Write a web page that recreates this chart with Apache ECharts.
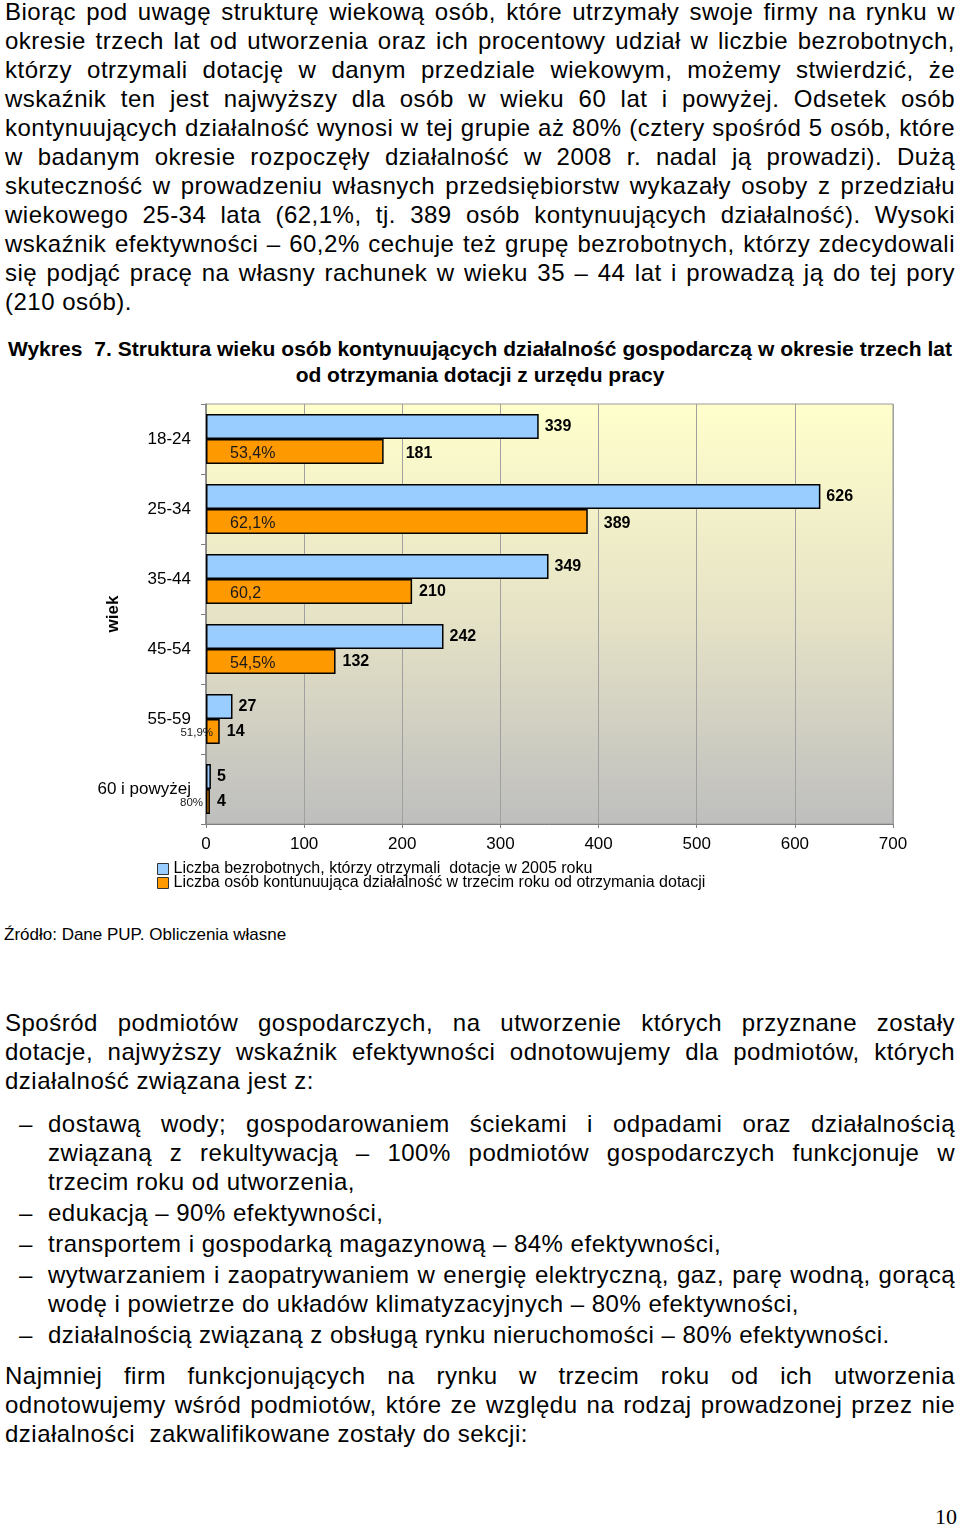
<!DOCTYPE html>
<html lang="pl">
<head>
<meta charset="utf-8">
<script src="https://cdn.jsdelivr.net/npm/echarts@6/dist/echarts.min.js"></script>
<style>
  html, body { margin: 0; padding: 0; background: #fff; }
  body { width: 960px; height: 1537px; position: relative; overflow: hidden;
         font-family: "Liberation Sans", Arial, sans-serif; color: #000; }
  .blk { position: absolute; left: 5px; width: 950px; font-size: 24px; line-height: 29px; letter-spacing: 0.5px; }
  .j { text-align: justify; text-align-last: justify; white-space: nowrap; }
  .l { text-align: left; white-space: nowrap; }
  .list { position: absolute; left: 0; width: 955px; font-size: 24px; line-height: 29px; letter-spacing: 0.5px; }
  .item { position: relative; padding-left: 48px; margin-top: 2px; }
  .item:first-child { margin-top: 0; }
  .dash { position: absolute; left: 19px; top: 0; }
  .title { position: absolute; left: 8px; width: 944px; font-weight: bold; font-size: 21px; line-height: 26px;
           font-family: "Liberation Sans", Arial, sans-serif; }
  #chart { position: absolute; left: 0; top: 395px; width: 960px; height: 525px; }
  .src { position: absolute; left: 4px; top: 925px; font-size: 17px; line-height: 20px; white-space: nowrap; }
  .pnum { position: absolute; right: 3px; top: 1504px; font-family: "Liberation Serif", "Times New Roman", serif; font-size: 22px; line-height: 26px; }
</style>
</head>
<body>
<div class="blk" style="top:-3px">
  <div class="j">Biorąc pod uwagę strukturę wiekową osób, które utrzymały swoje firmy na rynku w</div>
  <div class="j">okresie trzech lat od utworzenia oraz ich procentowy udział w liczbie bezrobotnych,</div>
  <div class="j">którzy otrzymali dotację w danym przedziale wiekowym, możemy stwierdzić, że</div>
  <div class="j">wskaźnik ten jest najwyższy dla osób w wieku 60 lat i powyżej. Odsetek osób</div>
  <div class="j">kontynuujących działalność wynosi w tej grupie aż 80% (cztery spośród 5 osób, które</div>
  <div class="j">w badanym okresie rozpoczęły działalność w 2008 r. nadal ją prowadzi). Dużą</div>
  <div class="j">skuteczność w prowadzeniu własnych przedsiębiorstw wykazały osoby z przedziału</div>
  <div class="j">wiekowego 25-34 lata (62,1%, tj. 389 osób kontynuujących działalność). Wysoki</div>
  <div class="j">wskaźnik efektywności – 60,2% cechuje też grupę bezrobotnych, którzy zdecydowali</div>
  <div class="j">się podjąć pracę na własny rachunek w wieku 35 – 44 lat i prowadzą ją do tej pory</div>
  <div class="l">(210 osób).</div>
</div>

<div class="title" style="top:336px">
  <div class="j">Wykres&nbsp; 7. Struktura wieku osób kontynuujących działalność gospodarczą w okresie trzech lat</div>
  <div style="text-align:center">od otrzymania dotacji z urzędu pracy</div>
</div>

<div id="chart"></div>

<div class="src">Źródło: Dane PUP. Obliczenia własne</div>

<div class="blk" style="top:1008px">
  <div class="j">Spośród podmiotów gospodarczych, na utworzenie których przyznane zostały</div>
  <div class="j">dotacje, najwyższy wskaźnik efektywności odnotowujemy dla podmiotów, których</div>
  <div class="l">działalność związana jest z:</div>
</div>

<div class="list" style="top:1109px">
  <div class="item"><span class="dash">–</span>
    <div class="j">dostawą wody; gospodarowaniem ściekami i odpadami oraz działalnością</div>
    <div class="j">związaną z rekultywacją – 100% podmiotów gospodarczych funkcjonuje w</div>
    <div class="l">trzecim roku od utworzenia,</div>
  </div>
  <div class="item"><span class="dash">–</span><div class="l">edukacją – 90% efektywności,</div></div>
  <div class="item"><span class="dash">–</span><div class="l">transportem i gospodarką magazynową – 84% efektywności,</div></div>
  <div class="item"><span class="dash">–</span>
    <div class="j">wytwarzaniem i zaopatrywaniem w energię elektryczną, gaz, parę wodną, gorącą</div>
    <div class="l">wodę i powietrze do układów klimatyzacyjnych – 80% efektywności,</div>
  </div>
  <div class="item"><span class="dash">–</span><div class="l">działalnością związaną z obsługą rynku nieruchomości – 80% efektywności.</div></div>
</div>

<div class="blk" style="top:1361px">
  <div class="j">Najmniej firm funkcjonujących na rynku w trzecim roku od ich utworzenia</div>
  <div class="j">odnotowujemy wśród podmiotów, które ze względu na rodzaj prowadzonej przez nie</div>
  <div class="l">działalności&nbsp; zakwalifikowane zostały do sekcji:</div>
</div>

<div class="pnum">10</div>

<script>
// ---- chart data ----
const categories = ['18-24', '25-34', '35-44', '45-54', '55-59', '60 i powyżej'];
const grantees = [339, 626, 349, 242, 27, 5];
const continuing = [181, 389, 210, 132, 14, 4];
const shareLabels = ['53,4%', '62,1%', '60,2', '54,5%', '51,9%', '80%'];
const xTicks = [0, 100, 200, 300, 400, 500, 600, 700];
const seriesNames = [
  'Liczba bezrobotnych, którzy otrzymali  dotacje w 2005 roku',
  'Liczba osób kontunuująca działalność w trzecim roku od otrzymania dotacji'
];
const axisName = 'wiek';

// ---- chart ----
const chart = echarts.init(document.getElementById('chart'), null, { renderer: 'canvas' });
const FONT = '"Liberation Sans", Arial, sans-serif';
const BAR_W = 25;

// label tweaks for the value labels of the orange bars (as in the original)
const orangeValueOffset = { 0: 15, 1: 9 };
// small share labels sit left of the tiny bars
const smallShare = { 4: [7, '55%'], 5: [-3, '55%'] };

const orangeData = continuing.map((v, i) => {
  const o = { value: v };
  if (orangeValueOffset[i]) o.label = { offset: [orangeValueOffset[i], 2] };
  return o;
});
const shareData = continuing.map((v, i) => {
  const o = { value: v };
  if (smallShare[i]) {
    o.label = { position: smallShare[i], align: 'right', fontSize: 11.5 };
  }
  return o;
});

const option = {
  animation: false,
  textStyle: { fontFamily: FONT },
  grid: {
    left: 206, right: 67, top: 9, height: 420,
    show: true,
    backgroundColor: new echarts.graphic.LinearGradient(0, 0, 0, 1, [
      { offset: 0, color: '#FFFFCC' },
      { offset: 0.5, color: '#E6E3C6' },
      { offset: 1, color: '#BEBEBE' }
    ]),
    borderColor: '#9a9a9a', borderWidth: 1
  },
  legend: {
    orient: 'vertical', left: 157, top: 466, padding: 0,
    itemWidth: 11, itemHeight: 11, itemGap: -2,
    icon: 'rect',
    data: seriesNames,
    textStyle: { fontSize: 16, color: '#000', lineHeight: 14, fontFamily: FONT },
    itemStyle: { borderColor: '#333', borderWidth: 1 }
  },
  xAxis: {
    type: 'value', min: xTicks[0], max: xTicks[xTicks.length - 1], interval: 100,
    axisLine: { show: true, lineStyle: { color: '#7f7f7f', width: 1 } },
    axisTick: { show: true, length: 4, lineStyle: { color: '#7f7f7f' } },
    axisLabel: { fontSize: 17, color: '#000', margin: 12 },
    splitLine: { show: true, lineStyle: { color: '#a0a0a0', width: 1 } }
  },
  yAxis: [
    {
      type: 'category', data: categories, inverse: true,
      name: axisName, nameLocation: 'middle', nameRotate: 90, nameGap: 84,
      nameMoveOverlap: false,
      nameTextStyle: { fontSize: 17, fontWeight: 'bold', color: '#000' },
      axisLine: { show: true, lineStyle: { color: '#7f7f7f', width: 1.5 } },
      axisTick: { show: true, length: 5, alignWithLabel: false, lineStyle: { color: '#7f7f7f' } },
      axisLabel: { fontSize: 17, color: '#000', margin: 15 },
      splitLine: { show: false }
    },
    {
      type: 'category', data: categories, inverse: true, show: false,
      axisLine: { show: false }, axisTick: { show: false }, axisLabel: { show: false }
    }
  ],
  series: [
    {
      name: seriesNames[0], type: 'bar', yAxisIndex: 0,
      data: grantees, barWidth: BAR_W, barGap: '0%',
      itemStyle: { color: '#99CCFF', borderColor: '#000', borderWidth: 1.5 },
      label: { show: true, position: 'right', distance: 6, fontSize: 16, fontWeight: 'bold', color: '#000' }
    },
    {
      name: seriesNames[1], type: 'bar', yAxisIndex: 0,
      data: orangeData, barWidth: BAR_W, barGap: '0%',
      itemStyle: { color: '#FF9900', borderColor: '#000', borderWidth: 1.5 },
      label: { show: true, position: 'right', distance: 7, fontSize: 16, fontWeight: 'bold', color: '#000' }
    },
    {
      name: '_spacer', type: 'bar', yAxisIndex: 1, silent: true,
      data: grantees, barWidth: BAR_W, barGap: '0%',
      itemStyle: { color: 'rgba(0,0,0,0)', borderWidth: 0 },
      label: { show: false }
    },
    {
      name: '_share', type: 'bar', yAxisIndex: 1, silent: true,
      data: shareData, barWidth: BAR_W, barGap: '0%',
      itemStyle: { color: 'rgba(0,0,0,0)', borderWidth: 0 },
      label: {
        show: true, position: [24, '58%'], verticalAlign: 'middle', align: 'left',
        fontSize: 16, color: '#1a1a1a',
        formatter: p => shareLabels[p.dataIndex]
      }
    }
  ]
};
chart.setOption(option);
</script>
</body>
</html>
